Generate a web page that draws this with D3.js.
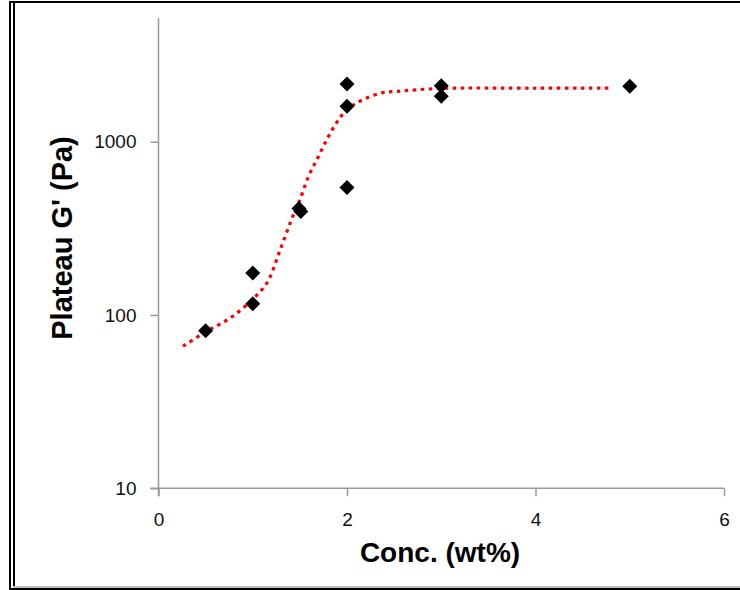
<!DOCTYPE html>
<html>
<head>
<meta charset="utf-8">
<script src="https://cdn.jsdelivr.net/npm/d3@7/dist/d3.min.js"></script>
<style>
  html, body { margin: 0; padding: 0; background: #fff; }
  svg { display: block; }
  text { font-family: "Liberation Sans", Arial, sans-serif; }
</style>
</head>
<body>
<svg id="chart" width="740" height="590"></svg>
<script>
// Measured data points (concentration in wt%, plateau G' in Pa)
const concentration = [0.5, 1, 1, 1.49, 1.51, 2, 2, 2, 3, 3, 5];
const plateauG = [81, 175, 116, 412, 396, 2150, 1600, 545, 2100, 1830, 2090];

// Trend line
const fitConc = [0.26, 0.5, 0.76, 0.99, 1.15, 1.29, 1.41, 1.50, 1.59, 1.68, 1.785, 1.89, 2.0, 2.17, 2.38, 2.53, 3.0, 4.0, 4.78];
const fitG = [66, 80, 96, 122, 153, 237, 354, 462, 628, 787, 1027, 1288, 1531, 1749, 1919, 1953, 2030, 2035, 2040];

// Axis ticks
const xTicks = [0, 2, 4, 6];
const yTicks = [10, 100, 1000];

const svg = d3.select("#chart");

// Frame
svg.append("rect").attr("x", 9).attr("y", 1).attr("width", 731).attr("height", 2).attr("fill", "#000");
svg.append("rect").attr("x", 9).attr("y", 1).attr("width", 2).attr("height", 589).attr("fill", "#000");
svg.append("rect").attr("x", 13).attr("y", 3).attr("width", 2).attr("height", 585).attr("fill", "#000");
svg.append("rect").attr("x", 13).attr("y", 586).attr("width", 727).attr("height", 2).attr("fill", "#c0c0c0");
svg.append("rect").attr("x", 9).attr("y", 588).attr("width", 731).attr("height", 2).attr("fill", "#000");

const x = d3.scaleLinear().domain([0, 6]).range([158.5, 724]);
const y = d3.scaleLog().domain([10, 10000]).range([488.3, 488.3 - 3 * 173.3]);

const axisColor = "#999";
const tickFont = "'Liberation Sans', Arial, sans-serif";

// Y axis
const yAxis = svg.append("g").attr("transform", `translate(${x(0)},0)`)
  .call(d3.axisLeft(y).tickValues(yTicks).tickFormat(d3.format("d")).tickSize(8).tickPadding(14));
yAxis.select(".domain").remove();
yAxis.selectAll(".tick line").attr("stroke", axisColor).attr("stroke-width", 1.5);
yAxis.selectAll(".tick text").attr("font-size", 19).attr("fill", "#111")
  .style("font-family", tickFont);
svg.append("line").attr("x1", x(0)).attr("x2", x(0)).attr("y1", 18).attr("y2", y(10) + 8)
  .attr("stroke", axisColor).attr("stroke-width", 1.5);

// X axis
const xAxis = svg.append("g").attr("transform", `translate(0,${y(10)})`)
  .call(d3.axisBottom(x).tickValues(xTicks).tickFormat(d3.format("d")).tickSize(8).tickPadding(16));
xAxis.select(".domain").remove();
xAxis.selectAll(".tick line").attr("stroke", axisColor).attr("stroke-width", 1.5);
xAxis.selectAll(".tick text").attr("font-size", 19).attr("fill", "#111")
  .style("font-family", tickFont);
svg.append("line").attr("x1", x(0) - 8).attr("x2", x(6)).attr("y1", y(10)).attr("y2", y(10))
  .attr("stroke", axisColor).attr("stroke-width", 1.5);

// Trend line
const fitData = fitConc.map((c, i) => [c, fitG[i]]);
svg.append("path")
  .datum(fitData)
  .attr("fill", "none")
  .attr("stroke", "#ff0000")
  .attr("stroke-width", 3.2)
  .attr("stroke-dasharray", "3.5,4.5")
  .attr("d", d3.line().x(d => x(d[0])).y(d => y(d[1])).curve(d3.curveCatmullRom.alpha(0.5)));

// Markers (diamonds)
const r = 7.5;
const pts = concentration.map((c, i) => [c, plateauG[i]]);
svg.append("g").selectAll("path")
  .data(pts)
  .join("path")
  .attr("transform", d => `translate(${x(d[0])},${y(d[1])})`)
  .attr("d", `M0,${-r}L${r},0L0,${r}L${-r},0Z`)
  .attr("fill", "#000");

// Axis titles
svg.append("text")
  .attr("x", 440).attr("y", 562)
  .attr("text-anchor", "middle")
  .attr("font-size", 28).attr("font-weight", "bold")
  .text("Conc. (wt%)");

svg.append("text")
  .attr("transform", "translate(72,238) rotate(-90)")
  .attr("text-anchor", "middle")
  .attr("font-size", 29).attr("font-weight", "bold")
  .text("Plateau G' (Pa)");
</script>
</body>
</html>
